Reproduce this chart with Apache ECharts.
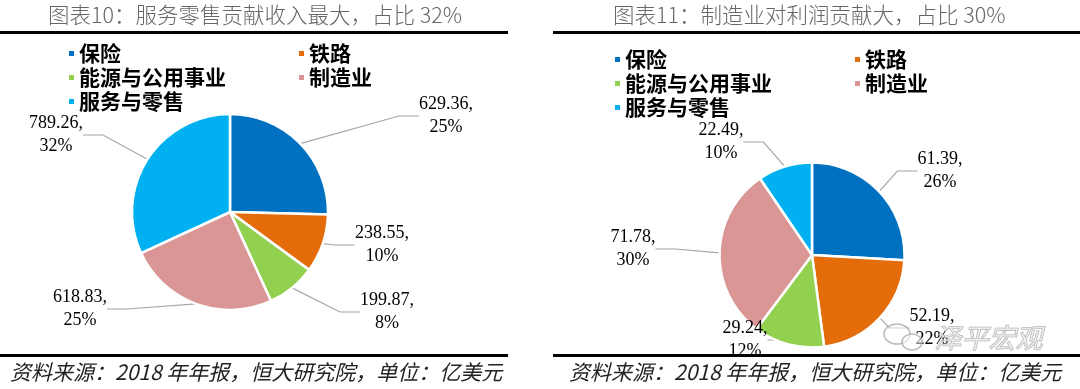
<!DOCTYPE html>
<html><head><meta charset="utf-8">
<script src="https://cdn.jsdelivr.net/npm/echarts@6/dist/echarts.min.js"></script>
<style>html,body{margin:0;padding:0;background:#fff}#c{width:1080px;height:389px}</style>
</head><body><div id="c"></div>
<script>
const categories = ['保险', '铁路', '能源与公用事业', '制造业', '服务与零售'];
const revenueValues = [629.36, 238.55, 199.87, 618.83, 789.26];
const profitValues = [61.39, 52.19, 29.24, 71.78, 22.49];
const colors = ['#0070C0', '#E46C0A', '#92D050', '#D99694', '#00B0F0'];
const titleLeft = '图表10：服务零售贡献收入最大，占比 32%';
const titleRight = '图表11：制造业对利润贡献大，占比 30%';
const sourceText = '资料来源：2018 年年报，恒大研究院，单位：亿美元';
const watermarkText = '泽平宏观';

// label placement (centre of each data label), per pie, in data order
const labelSpots = [
  [[446, 116], [382, 245], [387, 312], [80, 309], [56, 135]],
  [[940, 171], [932, 328], [745, 340], [633, 249], [721, 142]]
];

const chart = echarts.init(document.getElementById('c'), null, {renderer: 'canvas'});
const cjk = '"Noto Sans CJK SC", sans-serif';
const serif = '"Liberation Serif", "DejaVu Serif", serif';

function pieData(vals) {
  return categories.map((n, i) => ({name: n, value: vals[i], itemStyle: {color: colors[i]}}));
}
function legendCol(names, left, top) {
  return {
    data: names, orient: 'vertical', left: left, top: top, itemGap: 3,
    itemWidth: 7, itemHeight: 7, icon: 'rect', selectedMode: false,
    textStyle: {fontFamily: cjk, fontWeight: 'bold', fontSize: 21, color: '#000', lineHeight: 21, padding: [0,0,0,-1]}
  };
}
function pieSeries(vals, center, radius, spots) {
  return {
    type: 'pie', center: center, radius: radius, startAngle: 90, clockwise: true,
    percentPrecision: 0,
    data: pieData(vals), avoidLabelOverlap: false, animation: false,
    itemStyle: {borderColor: '#fff', borderWidth: 2.5},
    label: {
      show: true, position: 'outside', fontFamily: serif, fontSize: 18, color: '#000', lineHeight: 23,
      align: 'center',
      formatter: p => p.value.toFixed(2) + ',\n' + p.percent + '%'
    },
    labelLine: {show: true, length: 15, length2: 20, lineStyle: {color: '#A6A6A6', width: 1.2}},
    labelLayout: p => ({x: spots[p.dataIndex][0], y: spots[p.dataIndex][1], align: 'center', verticalAlign: 'middle'})
  };
}

chart.setOption({
  animation: false,
  legend: [
    legendCol(['保险', '能源与公用事业', '服务与零售'], 62, 38),
    legendCol(['铁路', '制造业'], 292, 38),
    legendCol(['保险', '能源与公用事业', '服务与零售'], 608, 44),
    legendCol(['铁路', '制造业'], 848, 44)
  ],
  graphic: [
    {type: 'text', left: 48, top: 4, style: {text: titleLeft, font: '300 21.5px ' + cjk, fill: '#666'}},
    {type: 'text', left: 613, top: 4, style: {text: titleRight, font: '300 21.5px ' + cjk, fill: '#666'}},
    {type: 'rect', shape: {x: 0, y: 31, width: 508, height: 3}, style: {fill: '#000'}},
    {type: 'rect', shape: {x: 553, y: 31, width: 527, height: 3}, style: {fill: '#000'}},
    {type: 'rect', shape: {x: 0, y: 354, width: 508, height: 3}, style: {fill: '#000'}},
    {type: 'rect', shape: {x: 553, y: 354, width: 527, height: 3}, style: {fill: '#000'}},
    {type: 'text', left: 10, top: 362, style: {text: sourceText, font: 'italic 21px ' + cjk, fill: '#222'}},
    {type: 'text', left: 569, top: 362, style: {text: sourceText, font: 'italic 21px ' + cjk, fill: '#222'}},
    {type: 'ellipse', z: 100, shape: {cx: 897, cy: 334, rx: 13, ry: 10}, style: {fill: 'rgba(255,255,255,0.5)', stroke: 'rgba(170,170,170,0.8)', lineWidth: 1.5}},
    {type: 'ellipse', z: 100, shape: {cx: 912, cy: 342, rx: 10, ry: 8}, style: {fill: 'rgba(255,255,255,0.5)', stroke: 'rgba(170,170,170,0.8)', lineWidth: 1.5}},
    {type: 'text', left: 934, top: 324, z: 100, style: {text: watermarkText, font: 'italic 27px ' + cjk, fill: 'rgba(235,235,235,0.75)', stroke: 'rgba(150,150,150,0.8)', lineWidth: 1}}
  ],
  series: [
    pieSeries(revenueValues, [230, 212], 98, labelSpots[0]),
    pieSeries(profitValues, [812, 255], 92.5, labelSpots[1])
  ]
});
</script></body></html>
